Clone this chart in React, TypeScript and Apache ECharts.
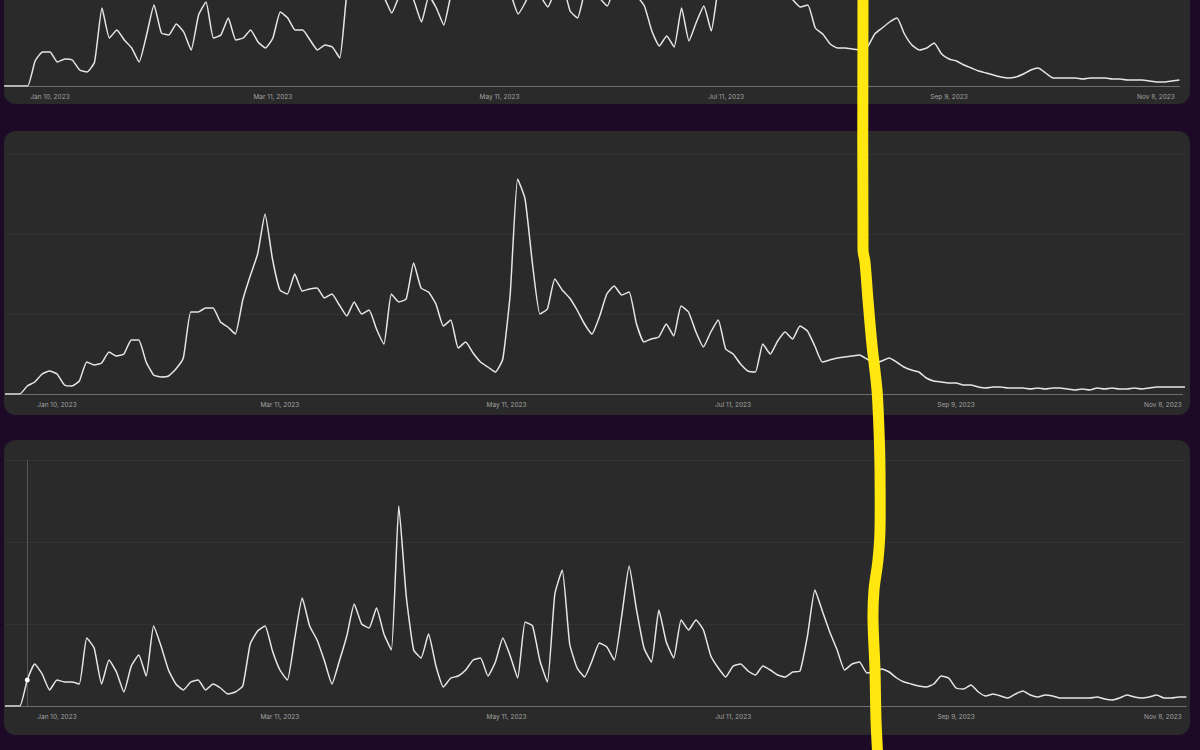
import React, { useEffect, useRef } from 'react';
import * as echarts from 'echarts';

// Samples every 2 days, day 0 = Jan 10, 2023
const dayStart = -14;
const dayStep = 2;

const tickDays = [0, 60, 121, 182, 242, 302];
const tickLabels = ['Jan 10, 2023', 'Mar 11, 2023', 'May 11, 2023', 'Jul 11, 2023', 'Sep 9, 2023', 'Nov 8, 2023'];

// top panel (its peaks run off the top of the screenshot)
const topValues = [
  0, 0, 0, 0, 0, 25, 34, 34, 24, 27,
  26, 16, 14, 24, 78, 48, 56, 46, 38, 24,
  51, 81, 53, 51, 62, 54, 36, 71, 84, 48,
  51, 68, 46, 48, 56, 44, 38, 48, 74, 68,
  56, 56, 46, 36, 41, 39, 28, 95, 110, 100,
  105, 95, 88, 73, 90, 100, 85, 64, 90, 78,
  61, 92, 105, 96, 110, 100, 112, 98, 105, 92,
  72, 84, 100, 90, 79, 95, 100, 75, 68, 95,
  104, 88, 80, 100, 110, 100, 90, 80, 55, 40,
  50, 39, 78, 45, 64, 80, 55, 100, 110, 105,
  115, 108, 112, 104, 110, 100, 95, 86, 79, 81,
  58, 52, 42, 38, 38, 37, 36, 39, 52, 58,
  64, 68, 52, 41, 36, 38, 43, 32, 27, 25,
  21, 18, 15, 13, 11, 9, 8, 9, 12, 16,
  18, 13, 8, 8, 8, 8, 7, 8, 8, 8,
  7, 7, 6, 6, 6, 5, 4, 4, 5, 6,
];

const middleValues = [
  0, 0, 0, 8, 12, 20, 23, 20, 9, 8,
  13, 32, 29, 31, 42, 38, 40, 54, 54, 32,
  19, 17, 18, 25, 36, 82, 82, 86, 86, 72,
  67, 60, 94, 118, 140, 180, 135, 104, 100, 120,
  103, 105, 106, 96, 100, 89, 78, 92, 80, 84,
  65, 50, 100, 92, 95, 131, 106, 102, 90, 68,
  74, 46, 52, 41, 32, 27, 22, 35, 100, 215,
  195, 130, 80, 85, 115, 104, 96, 84, 70, 60,
  77, 100, 108, 99, 102, 70, 52, 55, 57, 70,
  58, 88, 82, 62, 47, 62, 74, 45, 40, 30,
  23, 22, 50, 40, 53, 62, 55, 68, 63, 48,
  32, 34, 36, 37, 38, 39, 35, 31, 33, 36,
  32, 27, 24, 22, 16, 13, 12, 11, 11, 9,
  9, 7, 6, 7, 7, 6, 6, 6, 5, 6,
  5, 6, 6, 5, 4, 5, 4, 6, 5, 6,
  5, 5, 6, 5, 6, 7, 7, 7, 7, 7,
];

const bottomValues = [
  0, 0, 0, 26, 42, 32, 16, 26, 24, 24,
  22, 68, 58, 22, 46, 34, 14, 40, 51, 30,
  80, 60, 36, 22, 16, 24, 26, 16, 22, 18,
  12, 14, 20, 62, 75, 80, 55, 36, 26, 68,
  108, 80, 66, 45, 22, 45, 70, 102, 82, 78,
  98, 72, 56, 200, 110, 56, 48, 72, 40, 19,
  28, 30, 36, 46, 48, 30, 44, 68, 50, 28,
  84, 80, 45, 24, 112, 136, 62, 38, 29, 45,
  63, 59, 46, 90, 140, 96, 58, 44, 96, 64,
  48, 86, 76, 86, 76, 50, 38, 29, 40, 42,
  35, 31, 40, 36, 31, 29, 34, 35, 70, 116,
  95, 74, 56, 36, 42, 44, 33, 35, 37, 34,
  28, 24, 22, 20, 19, 22, 30, 28, 18, 17,
  21, 14, 10, 12, 10, 8, 12, 15, 11, 9,
  11, 10, 8, 8, 8, 8, 8, 9, 7, 6,
  8, 11, 9, 8, 9, 11, 8, 8, 9, 9,
];

// hovered point in the bottom panel
const cursorDay = -8;
const cursorValue = 26;

const toPoints = (values: number[]) => values.map((v, i) => [dayStart + i * dayStep, v]);

// hand-drawn yellow marker over the screenshot
const markerPoints = [
  [863, -10], [863, 250], [865, 262], [868, 300], [872, 345], [877, 390], [879, 430],
  [880, 470], [880, 530], [878, 560], [874, 590], [873, 620], [875, 670], [876, 720], [878, 760],
];

// top grid starts at the screen edge; anything above 86 leaves the picture
const panels = [
  { values: topValues, top: 0, height: 86, left: 5.4, right: 20.6, min: -12, max: 304, yMax: 86, yInterval: 43, split: false },
  { values: middleValues, top: 154, height: 240, left: 5, right: 17.4, min: -14, max: 303, yMax: 240, yInterval: 80, split: true },
  { values: bottomValues, top: 460, height: 246, left: 5, right: 13.6, min: -14, max: 304, yMax: 246, yInterval: 82, split: true },
];

const App: React.FC = () => {
  const chartRef = useRef<HTMLDivElement>(null);

  useEffect(() => {
    if (!chartRef.current) return;
    const chart = echarts.init(chartRef.current, null, { renderer: 'svg' });

    const labelColor = '#a3a3a3';

    const option: any = {
      animation: false,
      backgroundColor: '#1d0a27',
      grid: panels.map(p => ({ left: p.left, right: p.right, top: p.top, height: p.height })),
      xAxis: panels.map((p, i) => ({
        type: 'value',
        gridIndex: i,
        min: p.min,
        max: p.max,
        axisLine: { show: true, lineStyle: { color: '#6e6e6e', width: 1 } },
        axisTick: { show: false },
        splitLine: { show: false },
        axisLabel: {
          customValues: tickDays,
          margin: 7,
          color: labelColor,
          fontSize: 6.5,
          fontFamily: 'Inter, sans-serif',
          formatter: (v: number) => {
            const k = tickDays.indexOf(v);
            if (k < 0) return '';
            // last label sits flush with the end of the axis
            return k === tickDays.length - 1 ? `{last|${tickLabels[k]}}` : tickLabels[k];
          },
          rich: {
            last: { padding: [0, 32, 0, 0], fontSize: 6.5, color: labelColor, fontFamily: 'Inter, sans-serif' },
          },
        },
      })),
      yAxis: panels.map((p, i) => ({
        type: 'value',
        gridIndex: i,
        min: 0,
        max: p.yMax,
        interval: p.yInterval,
        axisLine: { show: false },
        axisTick: { show: false },
        axisLabel: { show: false },
        splitLine: { show: p.split, lineStyle: { color: '#333333', width: 1 } },
      })),
      series: panels.map((p, i) => {
        const s: any = {
          type: 'line',
          xAxisIndex: i,
          yAxisIndex: i,
          data: toPoints(p.values),
          showSymbol: false,
          smooth: 0.15,
          clip: true,
          lineStyle: { color: '#e6e6e6', width: 1.5 },
          z: 3,
        };
        if (i === 2) {
          s.markLine = {
            silent: true,
            symbol: 'none',
            label: { show: false },
            lineStyle: { color: '#575757', width: 1, type: 'solid' },
            data: [{ xAxis: cursorDay }],
          };
          s.markPoint = {
            symbol: 'circle',
            symbolSize: 5,
            label: { show: false },
            itemStyle: { color: '#ffffff' },
            data: [{ coord: [cursorDay, cursorValue] }],
          };
        }
        return s;
      }),
      graphic: [
        { type: 'rect', z: -5, shape: { x: 4, y: -30, width: 1186, height: 134, r: 12 }, style: { fill: '#2a2a2a' } },
        { type: 'rect', z: -5, shape: { x: 4, y: 131, width: 1186, height: 284, r: 12 }, style: { fill: '#2a2a2a' } },
        { type: 'rect', z: -5, shape: { x: 4, y: 440, width: 1186, height: 295, r: 12 }, style: { fill: '#2a2a2a' } },
        {
          type: 'polyline',
          z: 100,
          shape: { points: markerPoints, smooth: 0.3 },
          style: { stroke: '#ffe70f', lineWidth: 11, fill: null, lineCap: 'round', lineJoin: 'round' },
        },
      ],
    };

    chart.setOption(option);

    return () => {
      chart.dispose();
    };
  }, []);

  return (
    <div
      ref={chartRef}
      style={{ position: 'fixed', left: 0, top: 0, width: '1200px', height: '750px' }}
    />
  );
};

export default App;
